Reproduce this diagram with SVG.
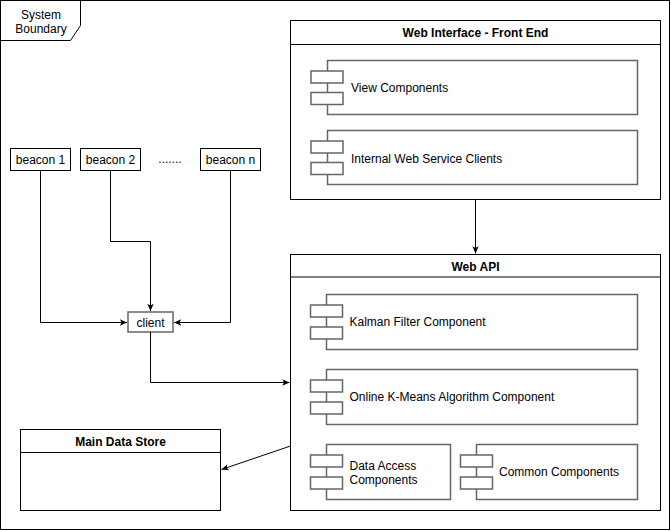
<svg xmlns="http://www.w3.org/2000/svg" width="671" height="531" viewBox="0 0 671 531">
<defs>
<style>
.box{fill:#fff;stroke:#000;stroke-width:1}
.comp{fill:#fff;stroke:#666;stroke-width:1.5}
.line{fill:none;stroke:#000;stroke-width:1}
text{font-family:"Liberation Sans",Arial,sans-serif;font-size:12px;fill:#000}
.t{font-weight:bold;text-anchor:middle}
.c{text-anchor:middle}
</style>
<marker id="arr" viewBox="0 0 10 8" refX="9" refY="4" markerWidth="9" markerHeight="8" markerUnits="userSpaceOnUse" orient="auto">
<path d="M1,0.5 L9,4 L1,7.5 L3,4 Z" fill="#000"/>
</marker>
</defs>
<rect width="671" height="531" fill="#fff"/>
<g id="system-boundary">
<rect x="0.5" y="0.5" width="669" height="529" class="box" fill="none"/>
<path d="M0.5,40.5 H70.5 L80.5,25.5 V0.5" class="line"/>
<text x="41" y="19.3" class="c">System</text>
<text x="41" y="33.3" class="c">Boundary</text>
</g>
<g id="beacon1">
<rect x="10.5" y="148.5" width="60" height="22" class="box"/>
<text x="40.5" y="163.5" class="c">beacon 1</text>
</g>
<g id="beacon2">
<rect x="80.5" y="148.5" width="60" height="22" class="box"/>
<text x="110.5" y="163.5" class="c">beacon 2</text>
</g>
<g id="dots">
<text x="170" y="163" class="c">.......</text>
</g>
<g id="beaconn">
<rect x="200.5" y="148.5" width="60" height="22" class="box"/>
<text x="230.5" y="163.5" class="c">beacon n</text>
</g>
<g id="client">
<rect x="128" y="312" width="45" height="20" class="comp"/>
<text x="150.5" y="326.5" class="c">client</text>
</g>
<g id="web-interface">
<rect x="290.5" y="20.5" width="370" height="179" class="box"/>
<line x1="290.5" y1="44.5" x2="660.5" y2="44.5" class="line"/>
<text x="475.5" y="37" class="t">Web Interface - Front End</text>
</g>
<g id="view-components">
<rect x="327.5" y="60.5" width="310" height="54" class="comp"/>
<rect x="311" y="71" width="32" height="12" class="comp"/>
<rect x="311" y="92.5" width="32" height="12" class="comp"/>
<text x="351" y="92">View Components</text>
</g>
<g id="internal-clients">
<rect x="327.5" y="130.5" width="310" height="54" class="comp"/>
<rect x="311" y="141" width="32" height="12" class="comp"/>
<rect x="311" y="162.5" width="32" height="12" class="comp"/>
<text x="351" y="162.5">Internal Web Service Clients</text>
</g>
<g id="web-api">
<rect x="290.5" y="254.5" width="370" height="256" class="box"/>
<line x1="290.5" y1="277" x2="660.5" y2="277" class="line"/>
<text x="475.5" y="271" class="t">Web API</text>
</g>
<g id="kalman">
<rect x="326.5" y="294.5" width="311" height="55" class="comp"/>
<rect x="310.5" y="305" width="32" height="12" class="comp"/>
<rect x="310.5" y="327" width="32" height="12" class="comp"/>
<text x="349.5" y="326">Kalman Filter Component</text>
</g>
<g id="kmeans">
<rect x="326.5" y="369.5" width="311" height="55" class="comp"/>
<rect x="310.5" y="380" width="32" height="12" class="comp"/>
<rect x="310.5" y="402" width="32" height="12" class="comp"/>
<text x="349.5" y="401">Online K-Means Algorithm Component</text>
</g>
<g id="data-access">
<rect x="326.5" y="444.5" width="124" height="55" class="comp"/>
<rect x="310.5" y="455" width="32" height="12" class="comp"/>
<rect x="310.5" y="477" width="32" height="12" class="comp"/>
<text x="349.5" y="469.5">Data Access</text>
<text x="349.5" y="483.5">Components</text>
</g>
<g id="common">
<rect x="476.5" y="444.5" width="161" height="55" class="comp"/>
<rect x="460.5" y="455" width="32" height="12" class="comp"/>
<rect x="460.5" y="477" width="32" height="12" class="comp"/>
<text x="499" y="476">Common Components</text>
</g>
<g id="main-data-store">
<rect x="20.5" y="429.5" width="200" height="81" class="box"/>
<line x1="20.5" y1="452.5" x2="220.5" y2="452.5" class="line"/>
<text x="120.5" y="446" class="t">Main Data Store</text>
</g>
<g id="connectors">
<path d="M40.5,170.5 V322.5 H127" class="line" marker-end="url(#arr)"/>
<path d="M110.5,170.5 V241.5 H150.5 V311" class="line" marker-end="url(#arr)"/>
<path d="M230.5,170.5 V322.5 H174" class="line" marker-end="url(#arr)"/>
<path d="M150.5,332 V382.5 H289.5" class="line" marker-end="url(#arr)"/>
<path d="M475.5,199.5 V253.5" class="line" marker-end="url(#arr)"/>
<path d="M290.5,446 L221.5,469.5" class="line" marker-end="url(#arr)"/>
</g>
</svg>
